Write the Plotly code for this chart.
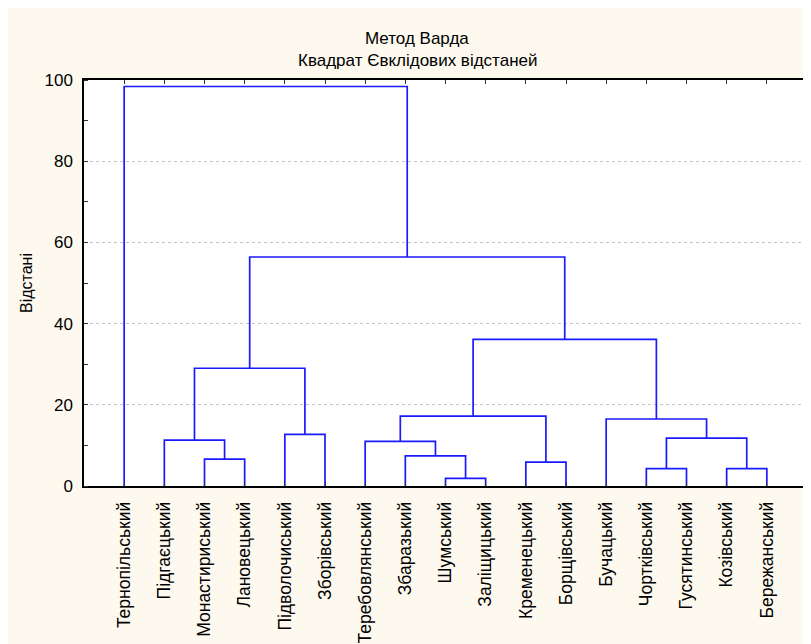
import plotly.graph_objects as go

leaves = ["Тернопільський", "Підгаєцький", "Монастириський", "Лановецький",
          "Підволочиський", "Зборівський", "Теребовлянський", "Збаразький",
          "Шумський", "Заліщицький", "Кременецький", "Борщівський",
          "Бучацький", "Чортківський", "Гусятинський", "Козівський", "Бережанський"]

# merges: node ids < 17 are leaves, >= 17 are earlier merges (in order)
merge_left = [8, 13, 15, 10, 2, 7, 6, 1, 18, 4, 12, 23, 24, 28, 29, 0]
merge_right = [9, 14, 16, 11, 3, 17, 22, 21, 19, 5, 25, 20, 26, 27, 30, 31]
merge_height = [1.9, 4.3, 4.3, 5.9, 6.6, 7.4, 11.0, 11.3, 11.8, 12.7, 16.5, 17.2, 29.0, 36.1, 56.4, 98.4]

title_lines = ["Метод Варда", "Квадрат Євклідових відстаней"]
y_title = "Відстані"

n = len(leaves)
pos = {i: float(i + 1) for i in range(n)}
hgt = {i: 0.0 for i in range(n)}
xs, ys = [], []
for k, (a, b, h) in enumerate(zip(merge_left, merge_right, merge_height)):
    node = n + k
    xa, xb = pos[a], pos[b]
    xs += [xa, xa, xb, xb, None]
    ys += [hgt[a], h, h, hgt[b], None]
    pos[node] = (xa + xb) / 2
    hgt[node] = h

fig = go.Figure()
fig.add_trace(go.Scatter(x=xs, y=ys, mode="lines",
                         line=dict(color="#1a1aff", width=1.7),
                         hoverinfo="skip", showlegend=False))

FONT = "Liberation Sans Narrow, Liberation Sans, Arial"
PW = 723
PH = 406
fig.update_layout(
    width=811, height=644,
    paper_bgcolor="#FDF9EF", plot_bgcolor="#FFFFFF",
    margin=dict(l=76, r=12, t=72, b=166, autoexpand=False),
    font=dict(family=FONT, color="#000000", size=16),
    xaxis=dict(range=[0, 18], tickmode="array", tickvals=list(range(1, n + 1)),
               ticktext=leaves, tickangle=-90, ticks="inside", ticklen=4,
               tickcolor="#333", showline=True, linecolor="#000", linewidth=1.5,
               mirror="ticks", showgrid=False, zeroline=False, automargin=False,
               ticklabelstandoff=7,
               tickfont=dict(family="Liberation Sans, Arial", size=17.5)),
    yaxis=dict(range=[0, 100], dtick=20, ticks="outside", ticklen=0,
               showline=True, linecolor="#000", linewidth=1.5, mirror="ticks",
               showgrid=True, gridcolor="#c4c4c4", griddash="dot", gridwidth=1,
               zeroline=False, tickfont=dict(size=17), ticklabelstandoff=6,
               automargin=False,
               minor=dict(dtick=10, ticks="inside", ticklen=4, tickcolor="#333",
                          showgrid=False),
               title=dict(text=y_title, font=dict(size=16), standoff=8)),
)
fig.add_annotation(text=title_lines[0], xref="paper", yref="paper",
                   x=(417 - 84) / PW, y=1 + (80 - 38) / PH, showarrow=False,
                   font=dict(size=17), xanchor="center", yanchor="middle")
fig.add_annotation(text=title_lines[1], xref="paper", yref="paper",
                   x=(417 - 84) / PW, y=1 + (80 - 60) / PH, showarrow=False,
                   font=dict(size=17), xanchor="center", yanchor="middle")

fig.write_html("out.html", config={"displayModeBar": False})
